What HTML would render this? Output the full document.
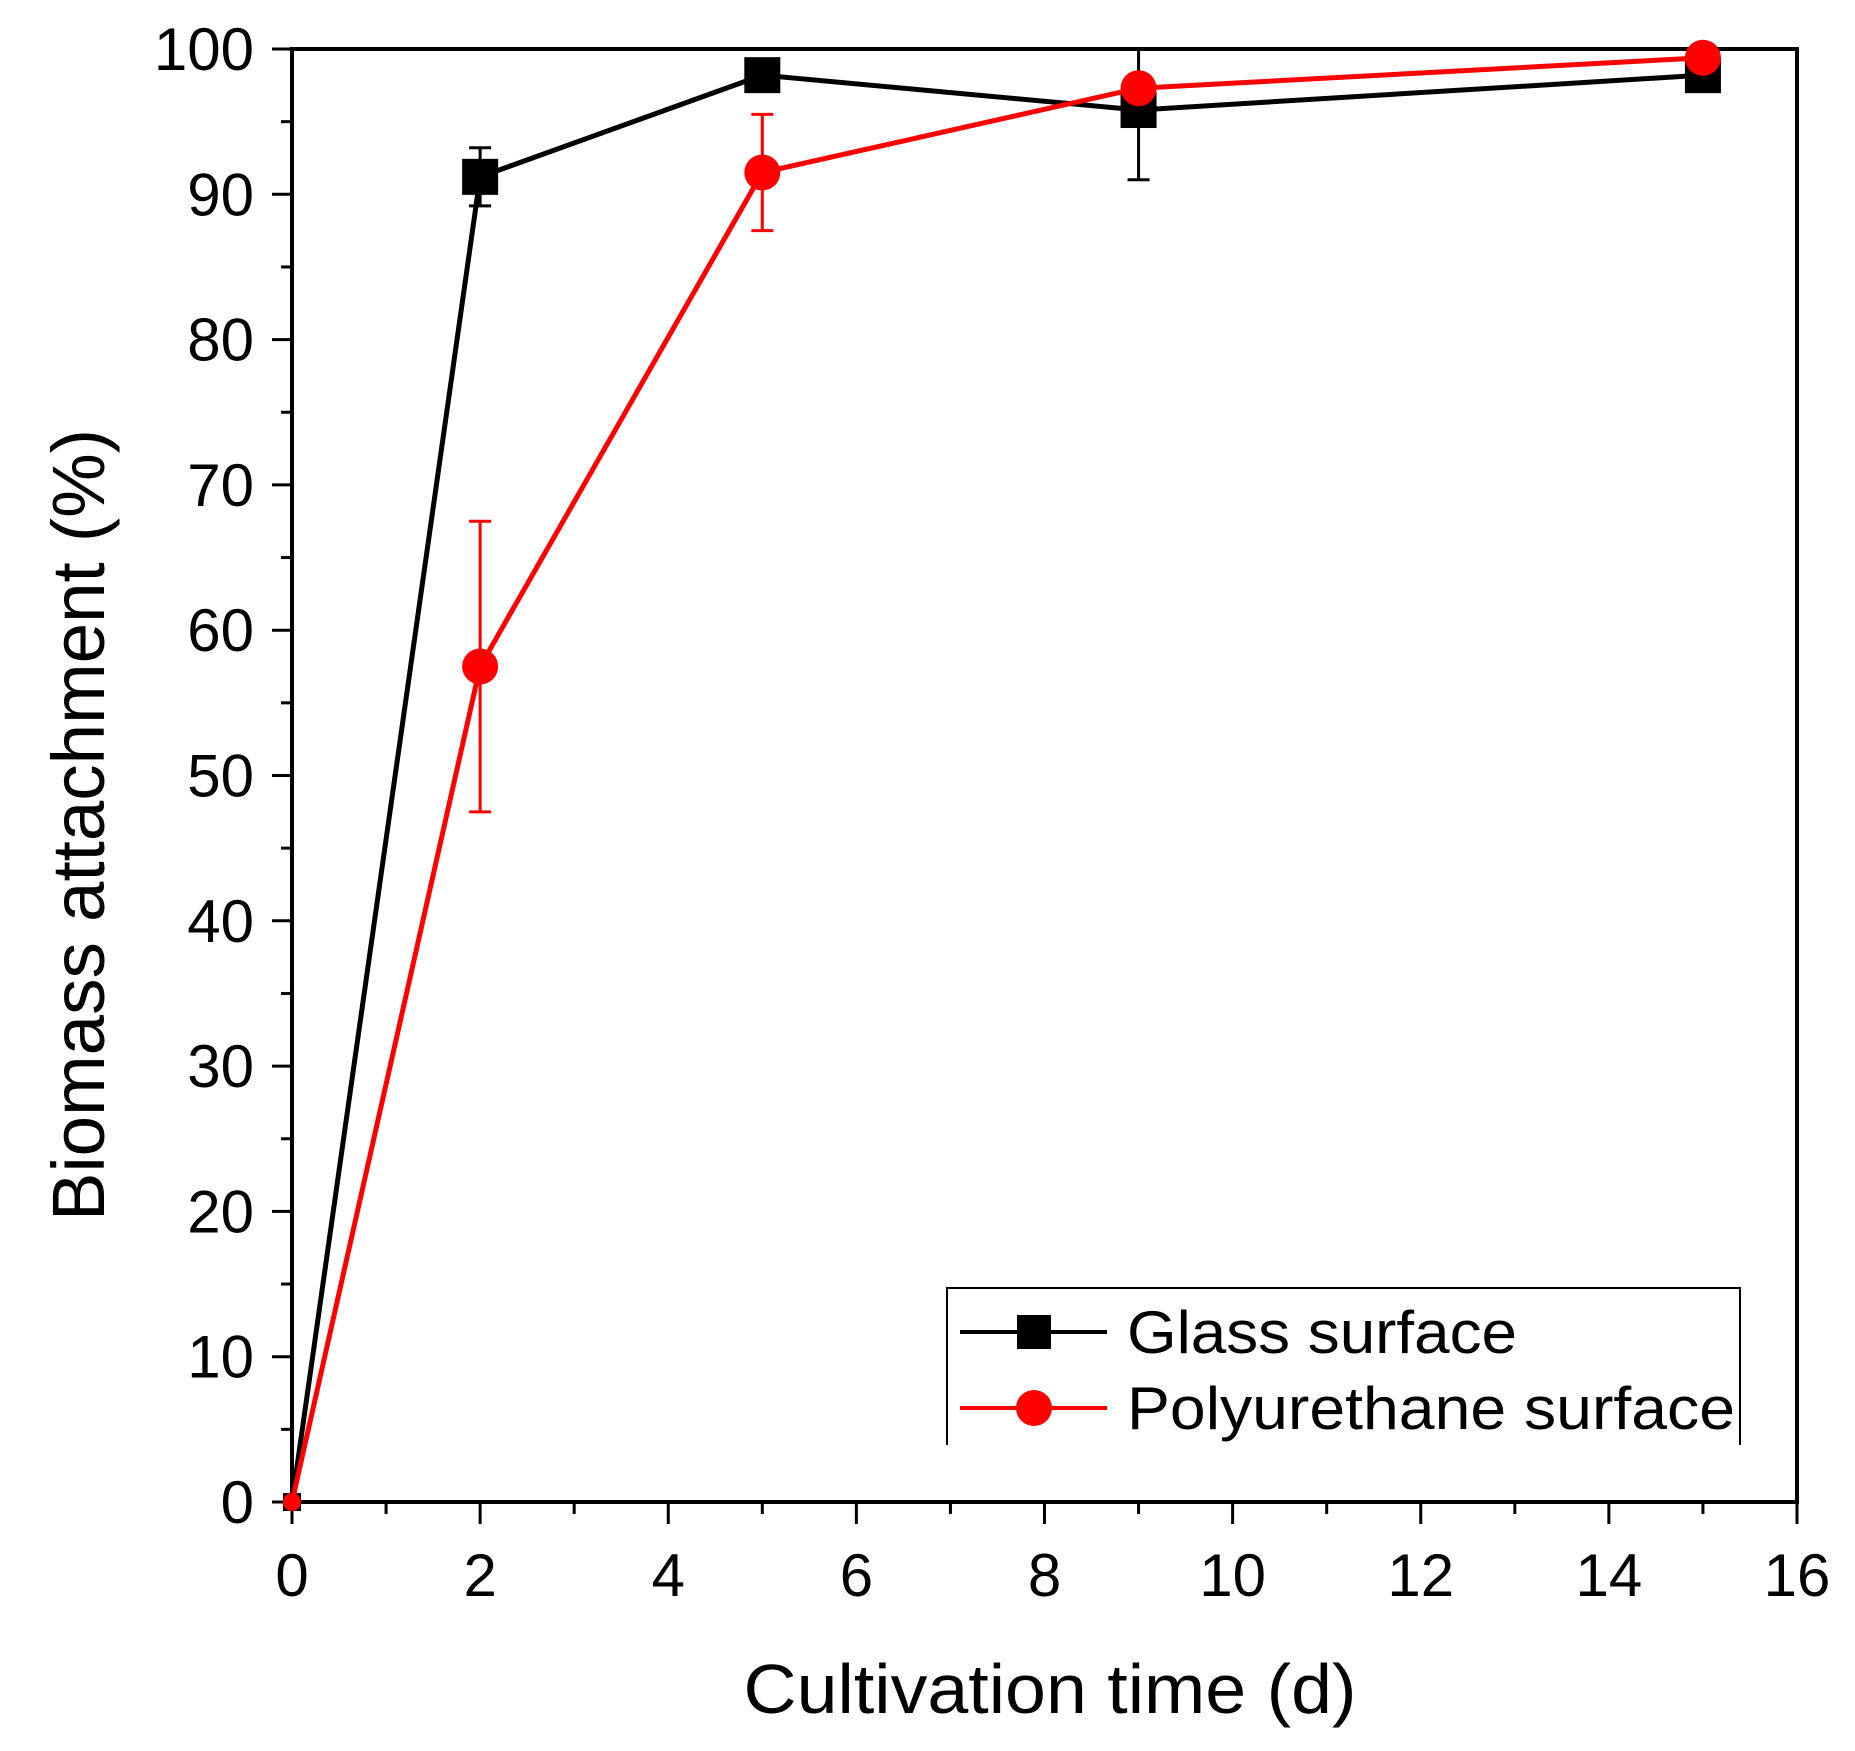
<!DOCTYPE html>
<html><head><meta charset="utf-8"><style>
html,body{margin:0;padding:0;background:#fff;}
svg{display:block;font-family:"Liberation Sans",Arial,sans-serif;}
</style></head><body>
<svg id="chart" width="1855" height="1751" viewBox="0 0 1855 1751" xmlns="http://www.w3.org/2000/svg">
<rect x="0" y="0" width="1855" height="1751" fill="#fff"/>
<g id="axes"></g>
<g id="series"></g>
<g id="legend">
  <path d="M947 1445 V1288 H1740 V1445" fill="none" stroke="#000" stroke-width="2"/>
  <g>
    <line x1="960" y1="1332" x2="1107" y2="1332" stroke="#000" stroke-width="4"/>
    <rect x="1017" y="1315" width="34" height="34" fill="#000"/>
    <text x="1127" y="1353" font-size="60" fill="#000" textLength="390" lengthAdjust="spacingAndGlyphs">Glass surface</text>
  </g>
  <g>
    <line x1="960" y1="1408" x2="1107" y2="1408" stroke="#f00" stroke-width="4"/>
    <circle cx="1034" cy="1408" r="18" fill="#f00"/>
    <text x="1127" y="1429" font-size="60" fill="#000" textLength="608" lengthAdjust="spacingAndGlyphs">Polyurethane surface</text>
  </g>
</g>
<text x="1050" y="1713" font-size="70" text-anchor="middle" textLength="613" lengthAdjust="spacingAndGlyphs">Cultivation time (d)</text>
<text transform="translate(104,825) rotate(-90)" font-size="74" text-anchor="middle" textLength="792" lengthAdjust="spacingAndGlyphs">Biomass attachment (%)</text>
</svg>
<script>
const xTicks = [0, 2, 4, 6, 8, 10, 12, 14, 16];
const yTicks = [0, 10, 20, 30, 40, 50, 60, 70, 80, 90, 100];
const days = [0, 2, 5, 9, 15];
const glassValues = [0, 91.2, 98.2, 95.8, 98.2];
const glassErrors = [0, 2, 0, 4.8, 0.8];
const polyValues = [0, 57.5, 91.5, 97.3, 99.4];
const polyErrors = [0, 10, 4, 0.8, 0.8];

const X0 = 292, X1 = 1797, Y0 = 1502, Y1 = 49;
const xMin = 0, xMax = 16, yMin = 0, yMax = 100;
function sx(v){ return X0 + (v - xMin) / (xMax - xMin) * (X1 - X0); }
function sy(v){ return Y0 - (v - yMin) / (yMax - yMin) * (Y0 - Y1); }
const NS = "http://www.w3.org/2000/svg";
function mk(tag, attrs, parent){
  const e = document.createElementNS(NS, tag);
  for (const k in attrs) e.setAttribute(k, attrs[k]);
  parent.appendChild(e);
  return e;
}
const axes = document.getElementById('axes');
const series = document.getElementById('series');

const frame = mk('rect', {x: X0, y: Y1, width: X1 - X0, height: Y0 - Y1, fill: 'none', stroke: '#000', 'stroke-width': 4}, axes);



for (let v = xMin; v <= xMax; v += 1) {
  const major = v % 2 === 0;
  const t = mk('line', {x1: sx(v), y1: Y0, x2: sx(v), y2: Y0 + (major ? 22 : 12), stroke: '#000', 'stroke-width': 3}, axes);
  
  
}
xTicks.forEach(v => {
  const t = mk('text', {x: sx(v), y: 1596, 'font-size': 60, 'text-anchor': 'middle'}, axes);
  t.textContent = v;
  
  
});
for (let v = yMin; v <= yMax; v += 5) {
  const major = v % 10 === 0;
  const t = mk('line', {x1: X0, y1: sy(v), x2: X0 - (major ? 20 : 11), y2: sy(v), stroke: '#000', 'stroke-width': 3}, axes);
  
  
}
yTicks.forEach(v => {
  const t = mk('text', {x: 254, y: sy(v) + 21, 'font-size': 60, 'text-anchor': 'end'}, axes);
  t.textContent = v;
  
  
});

function drawSeries(vals, errs, color, shape, name){
  const g = mk('g', {}, series);
  
  
  const pts = days.map((d, i) => sx(d) + ',' + sy(vals[i])).join(' ');
  const line = mk('polyline', {points: pts, fill: 'none', stroke: color, 'stroke-width': 5}, g);
  
  
  days.forEach((d, i) => {
    if (errs[i] > 0) {
      const x = sx(d), top = sy(Math.min(vals[i] + errs[i], yMax)), bot = sy(vals[i] - errs[i]);
      const eb = mk('path', {d: `M${x} ${top} V${bot} M${x-11} ${bot} H${x+11}` + (vals[i] + errs[i] <= yMax ? ` M${x-11} ${top} H${x+11}` : ''), stroke: color, 'stroke-width': 3, fill: 'none'}, g);
      
      
    }
  });
  days.forEach((d, i) => {
    const x = sx(d), y = sy(vals[i]);
    const r = d === 0 ? 9 : 18;
    let m;
    if (shape === 'square') m = mk('rect', {x: x - r, y: y - r, width: 2 * r, height: 2 * r, fill: color}, g);
    else m = mk('circle', {cx: x, cy: y, r: r, fill: color}, g);
    
    
  });
}
drawSeries(glassValues, glassErrors, '#000', 'square', 'glass');
drawSeries(polyValues, polyErrors, '#f00', 'circle', 'polyurethane');
</script>
</body></html>
